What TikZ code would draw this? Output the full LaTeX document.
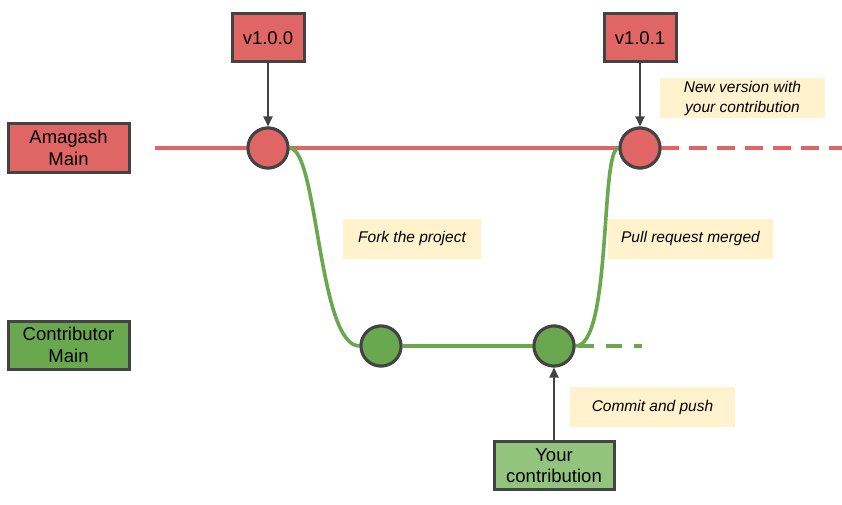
\documentclass[tikz,border=0pt]{standalone}
\usepackage{fontspec}
\setmainfont{Liberation Sans}
\usetikzlibrary{arrows.meta}
\definecolor{cred}{HTML}{E06666}
\definecolor{cgreen}{HTML}{6AA84F}
\definecolor{clgreen}{HTML}{93C47D}
\definecolor{cgray}{HTML}{434343}
\definecolor{cnote}{HTML}{FFF2CC}
\begin{document}
\begin{tikzpicture}[x=1pt,y=-1pt,
  box/.style={draw=cgray,line width=3pt,minimum height=48pt,align=center,font=\fontsize{18.5}{21.5}\selectfont,inner sep=0pt},
  branchbox/.style={box,minimum width=121pt},
  tagbox/.style={box,minimum width=72pt},
  commit/.style={circle,draw=cgray,line width=3pt,minimum size=40pt,inner sep=0pt},
  note/.style={fill=cnote,align=center,font=\fontsize{15.5}{20}\selectfont\itshape,inner sep=0pt,minimum height=40pt},
  redline/.style={cred,line width=3.6pt},
  greenline/.style={cgreen,line width=3.6pt},
  ptr/.style={cgray,line width=1.8pt,-{Triangle[length=10pt,width=9pt]}}]
\useasboundingbox (0,0) rectangle (842,505);
% main branches
\coordinate (rstart) at (155,148);
\coordinate (rend) at (842,148);
\coordinate (gend) at (642,346);
\node[commit,fill=cred] (r1) at (268,148) {};
\node[commit,fill=cred] (r2) at (640,148) {};
\node[commit,fill=cgreen] (g1) at (381,346) {};
\node[commit,fill=cgreen] (g2) at (554,346) {};
\draw[redline] (rstart) -- (r1.west);
\draw[redline] (r1.east) -- (r2.west);
\draw[redline,dash pattern=on 18pt off 10pt] (r2.east) ++(-1,0) -- (rend);
\draw[greenline] (g1.east) -- (g2.west);
\draw[greenline,dash pattern=on 16pt off 12pt] (g2.east) ++(2,0) -- (gend);
\draw[greenline] (r1.east) .. controls (318,148) and (318,346) .. (g1.west);
\draw[greenline] (g2.east) .. controls (612,346) and (600,148) .. (r2.west);
% redraw commits on top
\node[commit,fill=cred] at (r1) {};
\node[commit,fill=cred] at (r2) {};
\node[commit,fill=cgreen] at (g1) {};
\node[commit,fill=cgreen] at (g2) {};
% branch labels
\node[branchbox,fill=cred] (am) at (68.5,148) {Amagash\\Main};
\node[branchbox,fill=cgreen] (cm) at (68.5,345) {Contributor\\Main};
% tags
\node[tagbox,fill=cred] (t1) at (268,38) {v1.0.0};
\node[tagbox,fill=cred] (t2) at (640,38) {v1.0.1};
\node[box,fill=clgreen,minimum width=120pt] (yc) at (554,465.5) {Your\\contribution};
\draw[ptr] (t1.south) -- (r1.north);
\draw[ptr] (t2.south) -- (r2.north);
\draw[ptr] (yc.north) -- (g2.south);
% notes
\node[note,minimum width=138pt] (n1) at (412,238.5) {Fork the project};
\node[note,minimum width=165pt] (n2) at (690.5,238.5) {Pull request merged};
\node[note,minimum width=165pt] (n3) at (742.5,98) {New version with\\your contribution};
\node[note,minimum width=165pt] (n4) at (652.5,407) {Commit and push};
\end{tikzpicture}
\end{document}
